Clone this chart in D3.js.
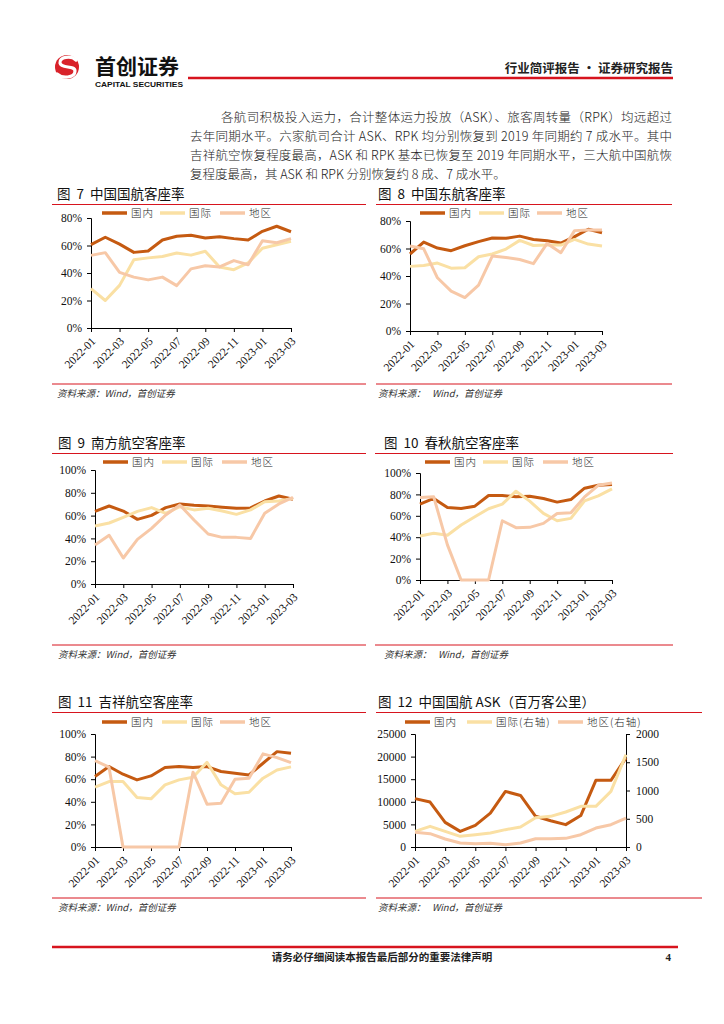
<!DOCTYPE html>
<html>
<head>
<meta charset="utf-8">
<script src="https://cdn.jsdelivr.net/npm/d3@7"></script>
<style>
  body { margin: 0; background: #fff; }
  svg text { white-space: pre; }
</style>
</head>
<body>
<script>

// ================================ data
var months = ["2022-01", "2022-02", "2022-03", "2022-04", "2022-05", "2022-06", "2022-07", "2022-08",
  "2022-09", "2022-10", "2022-11", "2022-12", "2023-01", "2023-02", "2023-03"];
var tickMonths = ["2022-01", "2022-03", "2022-05", "2022-07", "2022-09", "2022-11", "2023-01", "2023-03"];
var seriesNames = ["国内", "国际", "地区"];
var askNames = ["国内", "国际(右轴)", "地区(右轴)"];

// 客座率 (%)
var airChinaDom = [60.6, 66, 61, 55, 56, 64, 66.7, 67.4, 65.5, 66.4, 65, 64, 70.3, 74, 70];
var airChinaIntl = [28.6, 20, 31, 49.7, 51, 52, 54.5, 53, 55.8, 44.4, 42.4, 47.3, 58, 60.6, 63];
var airChinaReg = [52.8, 54.8, 40.5, 37, 35, 37, 30.8, 43, 45.3, 44.4, 49, 46, 63.5, 62, 65];

var eastDom = [56, 64.7, 60.3, 58.4, 62, 65, 67.6, 67.4, 69, 66.6, 65.6, 64, 68.6, 74, 71.5];
var eastIntl = [47, 47.7, 49.4, 45.7, 46, 54, 56, 59.6, 65.9, 62.2, 62.5, 62.5, 66.6, 63.2, 61.8];
var eastReg = [61.8, 59.8, 38.7, 29, 24.3, 33.3, 54.5, 53.5, 52, 49, 63.7, 56.9, 73, 73.4, 73.4];

var southDom = [63.7, 68.4, 64, 56.7, 60.2, 67, 70.2, 69, 68.4, 67.3, 66.4, 66.7, 72.8, 77.2, 74.3];
var southIntl = [50.9, 53.5, 58.5, 63.7, 67, 62, 67.8, 65, 66.4, 64, 61.1, 65, 72.2, 72.8, 75.1];
var southReg = [34.2, 42.7, 22.8, 39.2, 48.8, 60.5, 69.3, 56.1, 43.9, 40.9, 40.9, 40, 62, 70.2, 76];

var springDom = [70.9, 76.2, 67.8, 66.9, 69, 79, 79, 77.7, 78.3, 76.2, 72.8, 75.2, 85.8, 88.5, 89.2];
var springIntl = [41.2, 43.7, 41.8, 51.4, 59.1, 66.6, 70.9, 83, 73.7, 62.2, 55.4, 57.6, 74, 78.6, 85.1];
var springReg = [77.1, 77.7, 32.8, 0, 0, 0, 55.4, 48.9, 49.2, 52.9, 62.2, 62.8, 77.7, 88.5, 90.7];

var juneyaoDom = [62.4, 71.2, 64.4, 59.4, 62.9, 70.3, 71.2, 70.3, 71.2, 66.8, 65.3, 63.8, 74.1, 84.4, 82.9];
var juneyaoIntl = [52.9, 57.9, 57.9, 43.8, 42.6, 55, 59.4, 61.8, 75, 55, 47.1, 48.5, 60.9, 68.2, 70.9];
var juneyaoReg = [76.5, 70.6, 0, 0, 0, 0, 0, 66.2, 37.9, 38.8, 60, 60.9, 82.4, 79.1, 74.7];

// 中国国航 ASK (百万客公里)
var askDom = [10700, 9950, 5450, 3450, 4800, 7500, 12300, 11400, 6800, 5800, 4950, 6950, 14750, 14750, 19700];
var askIntl = [277, 366, 277, 189, 218, 248, 307, 354, 519, 543, 619, 720, 720, 985, 1634];
var askReg = [260, 236, 142, 71, 59, 65, 41, 71, 147, 147, 153, 218, 336, 395, 513];

var pctTicks = [0, 20, 40, 60, 80];
var pctTicks100 = [0, 20, 40, 60, 80, 100];
var askLeftTicks = [0, 5000, 10000, 15000, 20000, 25000];
var askRightTicks = [0, 500, 1000, 1500, 2000];

var colors = ["#C55A11", "#FAE0A4", "#F7C8A7"];
var red = "#D7141E";
var cjk = "'Noto Sans CJK SC', sans-serif";
var serif = "'Liberation Serif', 'Noto Sans CJK SC', serif";

var svg = d3.select("body")
  .append("svg")
  .attr("width", 724)
  .attr("height", 1024);

svg.append("rect").attr("width", 724).attr("height", 1024).attr("fill", "#fff");

// ================================ header
var logo = svg.append("g");
logo.append("circle").attr("cx", 67).attr("cy", 67).attr("r", 12).attr("fill", "#D9222A");
logo.append("path")
  .attr("d", "M76,60 C71,55 59,57 60,63 C61,69 75,65 75,71 C75,78 62,79 57,74")
  .attr("fill", "none").attr("stroke", "#fff").attr("stroke-width", 3.2).attr("stroke-linecap", "round");
logo.append("text").attr("x", 95).attr("y", 74).text("首创证券")
  .attr("font-family", cjk).attr("font-weight", 700).attr("font-size", 21).attr("fill", "#111");
logo.append("text").attr("x", 95).attr("y", 86.5).text("CAPITAL SECURITIES")
  .attr("font-family", "'Liberation Sans', Arial, sans-serif").attr("font-weight", 700)
  .attr("font-size", 7).attr("textLength", 88).attr("lengthAdjust", "spacingAndGlyphs").attr("fill", "#111");

svg.append("line").attr("x1", 188).attr("x2", 673).attr("y1", 78).attr("y2", 78)
  .attr("stroke", red).attr("stroke-width", 2.5);
svg.append("text").attr("x", 673).attr("y", 73).attr("text-anchor", "end")
  .text("行业简评报告 · 证券研究报告")
  .attr("font-family", cjk).attr("font-weight", 600).attr("font-size", 12.5).attr("fill", "#222");

// ================================ paragraph
var paraLines = [
  { x: 221, y: 122, len: 451, t: "各航司积极投入运力，合计整体运力投放（ASK）、旅客周转量（RPK）均远超过" },
  { x: 190, y: 141, len: 482, t: "去年同期水平。六家航司合计 ASK、RPK 均分别恢复到 2019 年同期约 7 成水平。其中" },
  { x: 190, y: 160, len: 482, t: "吉祥航空恢复程度最高，ASK 和 RPK 基本已恢复至 2019 年同期水平，三大航中国航恢" },
  { x: 190, y: 179, len: null, t: "复程度最高，其 ASK 和 RPK 分别恢复约 8 成、7 成水平。" }
];
paraLines.forEach(function (l) {
  var t = svg.append("text").attr("x", l.x).attr("y", l.y).text(l.t)
    .attr("font-family", cjk).attr("font-size", 12.5).attr("font-weight", 300).attr("fill", "#222");
  if (l.len) t.attr("textLength", l.len).attr("lengthAdjust", "spacing");
});

// ================================ chart helper
function drawChart(cfg) {
  var g = svg.append("g");

  // title + red rule
  g.append("text").attr("x", cfg.titleX).attr("y", cfg.titleY).text(cfg.title)
    .attr("font-family", cjk).attr("font-size", 13.5).attr("font-weight", 400).attr("fill", "#111");
  g.append("line").attr("x1", cfg.ruleX1).attr("x2", cfg.ruleX2).attr("y1", cfg.titleY + 5.5).attr("y2", cfg.titleY + 5.5)
    .attr("stroke", red).attr("stroke-width", 1);

  var x = d3.scalePoint().domain(months).range([cfg.left, cfg.right]);
  var y = d3.scaleLinear().domain([0, cfg.yMax]).range([cfg.bottom, cfg.top]);
  var y2 = cfg.y2Max ? d3.scaleLinear().domain([0, cfg.y2Max]).range([cfg.bottom, cfg.top]) : null;

  var leftAxis = d3.axisLeft(y).tickValues(cfg.yTicks).tickSize(4).tickPadding(5).tickFormat(cfg.fmt);
  var ga = g.append("g").attr("transform", `translate(${cfg.left},0)`).call(leftAxis);
  ga.selectAll("text").attr("font-family", serif).attr("font-size", 11.5).attr("fill", "#111");

  if (y2) {
    var rightAxis = d3.axisRight(y2).tickValues(cfg.y2Ticks).tickSize(4).tickPadding(6).tickFormat(d => d);
    var gr = g.append("g").attr("transform", `translate(${cfg.right},0)`).call(rightAxis);
    gr.selectAll("text").attr("font-family", serif).attr("font-size", 11.5).attr("fill", "#111");
  }

  var bottomAxis = d3.axisBottom(x).tickValues(tickMonths).tickSize(4);
  var gb = g.append("g").attr("transform", `translate(0,${cfg.bottom})`).call(bottomAxis);
  gb.selectAll("text")
    .attr("x", 0).attr("y", 0).attr("dy", "0.35em")
    .attr("transform", "translate(2,11) rotate(-45)")
    .style("text-anchor", "end")
    .attr("font-family", serif).attr("font-size", 11.5).attr("fill", "#111");
  g.selectAll(".domain").attr("stroke", "#000");
  g.selectAll(".tick line").attr("stroke", "#000");

  // lines
  cfg.series.forEach(function (s, i) {
    var sc = s.right ? y2 : y;
    var line = d3.line()
      .x((d, j) => x(months[j]))
      .y(d => sc(d));
    g.append("path").datum(s.values)
      .attr("d", line)
      .attr("fill", "none")
      .attr("stroke", colors[i])
      .attr("stroke-width", 3)
      .attr("stroke-linejoin", "round");
  });

  // legend
  cfg.legendX.forEach(function (lx, i) {
    g.append("line").attr("x1", lx).attr("x2", lx + 25).attr("y1", cfg.legendY).attr("y2", cfg.legendY)
      .attr("stroke", colors[i]).attr("stroke-width", 3.5);
    g.append("text").attr("x", lx + 29).attr("y", cfg.legendY + 4).text(cfg.names[i])
      .attr("font-family", cjk).attr("font-size", 10.5).attr("font-weight", 300).attr("letter-spacing", 1).attr("fill", "#222");
  });

  // source
  g.append("line").attr("x1", cfg.ruleX1).attr("x2", cfg.ruleX2).attr("y1", cfg.srcY).attr("y2", cfg.srcY)
    .attr("stroke", red).attr("stroke-width", 1);
  g.append("text").attr("x", cfg.titleX).attr("y", cfg.srcY + 13).text(cfg.source)
    .attr("font-family", cjk).attr("font-style", "italic").attr("font-size", 9.5).attr("fill", "#333");
}

var pct = d => d + "%";

drawChart({
  title: "图  7  中国国航客座率", titleX: 57, titleY: 199, ruleX1: 52, ruleX2: 366,
  left: 91, right: 291, top: 218, bottom: 328, yMax: 80, yTicks: pctTicks, fmt: pct,
  series: [{ values: airChinaDom }, { values: airChinaIntl }, { values: airChinaReg }],
  names: seriesNames, legendX: [102, 160, 220], legendY: 213,
  srcY: 384, source: "资料来源：Wind，首创证券"
});

drawChart({
  title: "图  8  中国东航客座率", titleX: 378, titleY: 199, ruleX1: 376, ruleX2: 672,
  left: 410, right: 602, top: 221, bottom: 331, yMax: 80, yTicks: pctTicks, fmt: pct,
  series: [{ values: eastDom }, { values: eastIntl }, { values: eastReg }],
  names: seriesNames, legendX: [420, 479, 537], legendY: 213,
  srcY: 384, source: "资料来源：   Wind，首创证券"
});

drawChart({
  title: "图  9  南方航空客座率", titleX: 58, titleY: 448, ruleX1: 52, ruleX2: 366,
  left: 95, right: 293, top: 470, bottom: 584, yMax: 100, yTicks: pctTicks100, fmt: pct,
  series: [{ values: southDom }, { values: southIntl }, { values: southReg }],
  names: seriesNames, legendX: [103, 162, 222], legendY: 462,
  srcY: 645, source: "资料来源：Wind，首创证券"
});

drawChart({
  title: "图  10  春秋航空客座率", titleX: 384, titleY: 448, ruleX1: 375, ruleX2: 673,
  left: 420, right: 612, top: 473, bottom: 580, yMax: 100, yTicks: pctTicks100, fmt: pct,
  series: [{ values: springDom }, { values: springIntl }, { values: springReg }],
  names: seriesNames, legendX: [425, 483, 543], legendY: 462,
  srcY: 645, source: "资料来源：   Wind，首创证券"
});

drawChart({
  title: "图  11  吉祥航空客座率", titleX: 58, titleY: 707, ruleX1: 52, ruleX2: 366,
  left: 95, right: 291, top: 734, bottom: 847, yMax: 100, yTicks: pctTicks100, fmt: pct,
  series: [{ values: juneyaoDom }, { values: juneyaoIntl }, { values: juneyaoReg }],
  names: seriesNames, legendX: [102, 162, 220], legendY: 722,
  srcY: 898, source: "资料来源：Wind，首创证券"
});

drawChart({
  title: "图  12  中国国航 ASK（百万客公里）", titleX: 378, titleY: 707, ruleX1: 376, ruleX2: 702,
  left: 415, right: 626, top: 734, bottom: 847, yMax: 25000, yTicks: askLeftTicks, fmt: d => d,
  y2Max: 2000, y2Ticks: askRightTicks,
  series: [{ values: askDom }, { values: askIntl, right: true }, { values: askReg, right: true }],
  names: askNames, legendX: [405, 467, 558], legendY: 722,
  srcY: 898, source: "资料来源：   Wind，首创证券"
});

// ================================ footer
svg.append("line").attr("x1", 52).attr("x2", 678).attr("y1", 947).attr("y2", 947)
  .attr("stroke", red).attr("stroke-width", 2.5);
svg.append("text").attr("x", 382).attr("y", 961).attr("text-anchor", "middle")
  .text("请务必仔细阅读本报告最后部分的重要法律声明")
  .attr("font-family", cjk).attr("font-weight", 700).attr("font-size", 10.5).attr("fill", "#222");
svg.append("text").attr("x", 671).attr("y", 961).attr("text-anchor", "end").text("4")
  .attr("font-family", serif).attr("font-weight", 700).attr("font-size", 11).attr("fill", "#222");

</script>
</body>
</html>
